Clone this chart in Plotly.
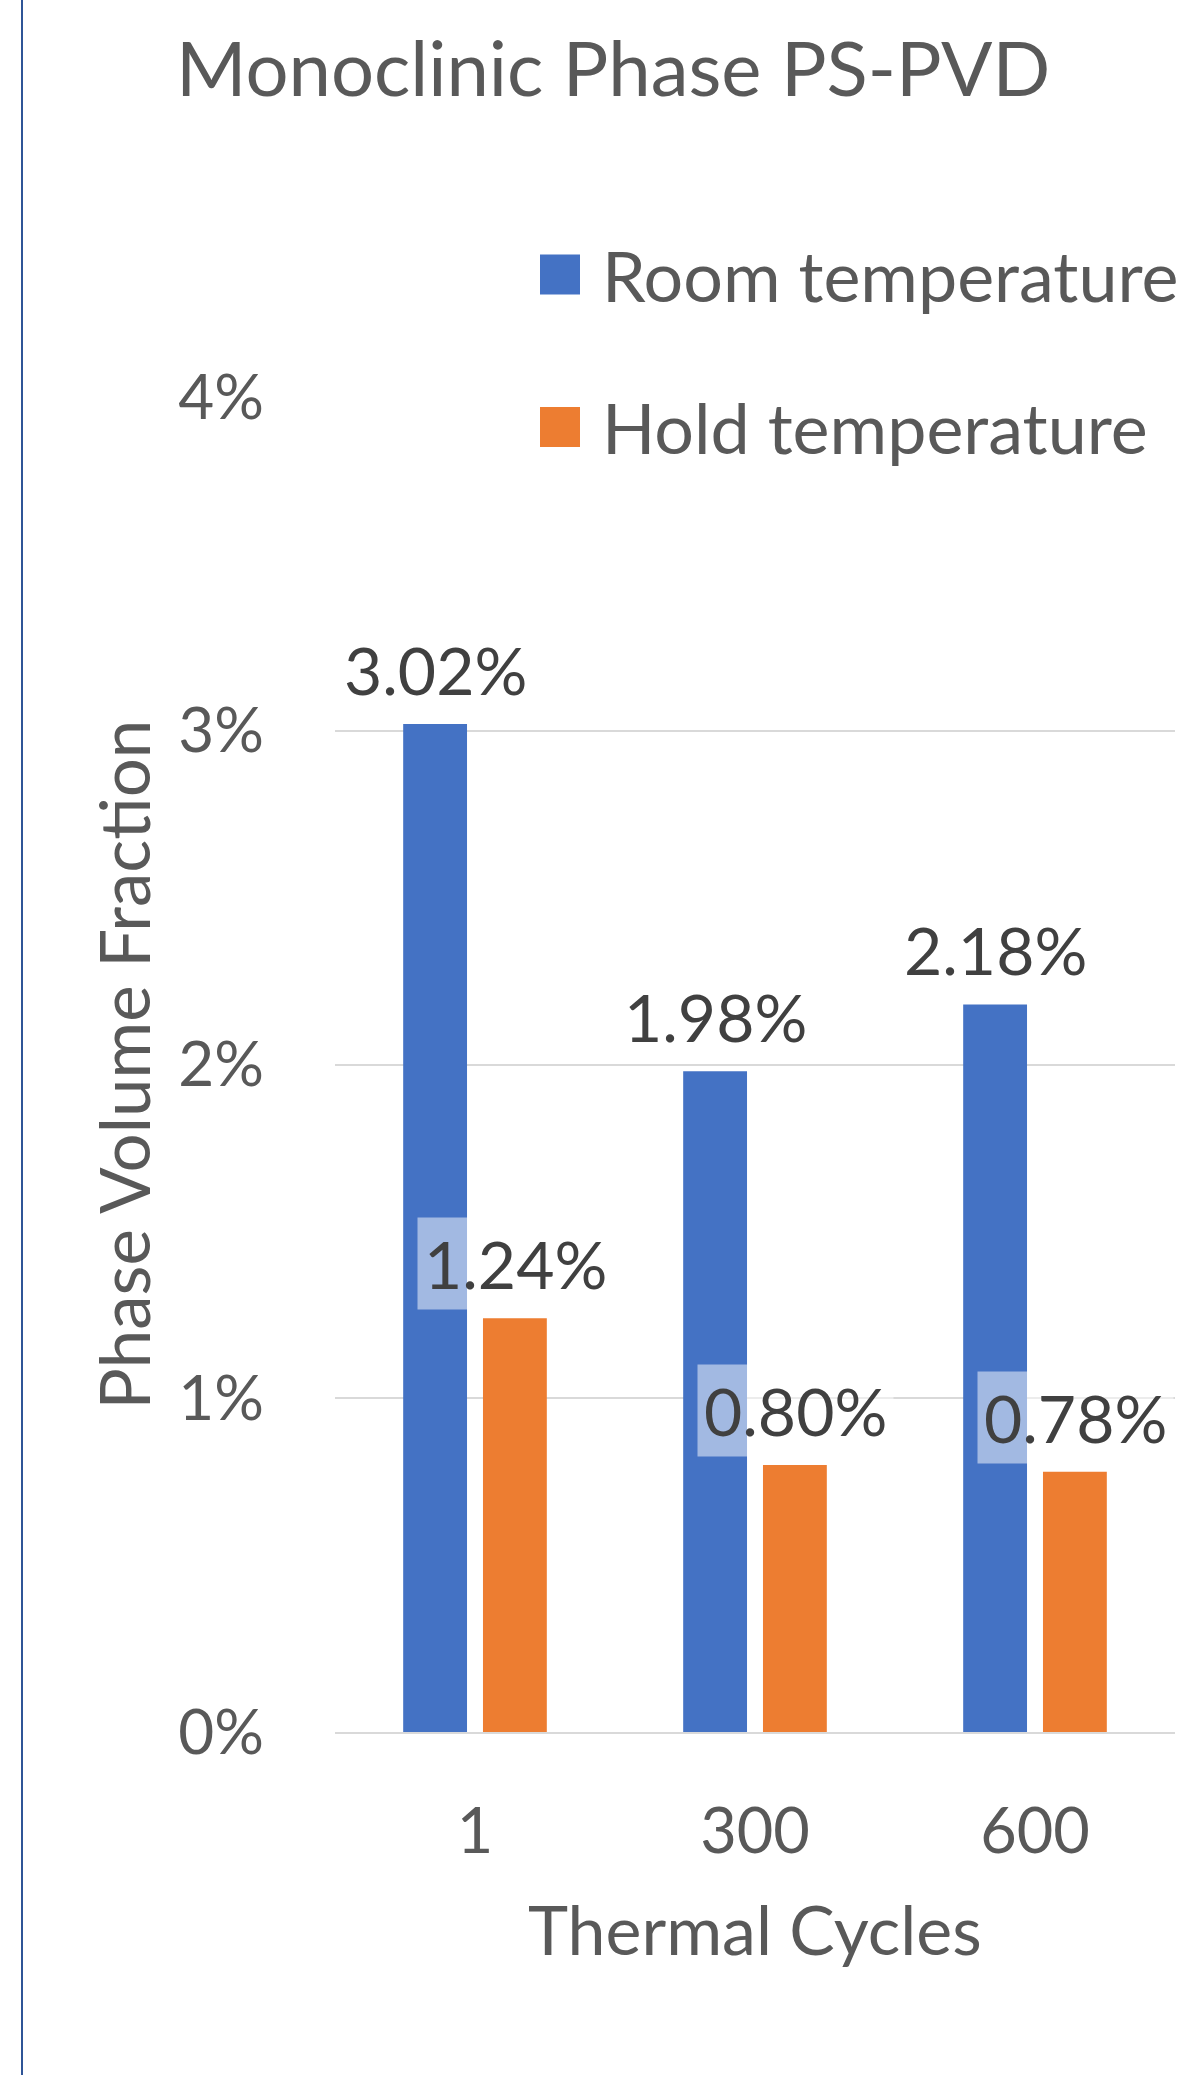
import plotly.graph_objects as go

# Monoclinic phase volume fraction after thermal cycling (PS-PVD coating)
cycles = ["1", "300", "600"]
room_temp = [0.0302, 0.0198, 0.0218]
hold_temp = [0.0124, 0.0080, 0.0078]
y_ticks = [0, 0.01, 0.02, 0.03, 0.04]

BLUE = "#4472C4"
ORANGE = "#ED7D31"
TEXT = "#595959"
LABEL = "#404040"
GRID = "#D9D9D9"
FONT = "Lato"

W, H = 1199, 2075
L, R, T, B = 335, 24, 397, 343
PW, PH = W - L - R, H - T - B


def px_x(p):
    return (p - L) / PW


def px_y(p):
    return (H - B - p) / PH


fig = go.Figure()
fig.add_trace(go.Bar(x=cycles, y=room_temp, name="Room temperature",
                     marker=dict(color=BLUE, line=dict(width=0))))
fig.add_trace(go.Bar(x=cycles, y=hold_temp, name="Hold temperature",
                     marker=dict(color=ORANGE, line=dict(width=0))))

# value labels above each bar, with a translucent white backing box;
# x is the category index so numeric-looking names are not misread
annotations = []
for series, shift in ((room_temp, -40), (hold_temp, 40)):
    for i, v in enumerate(series):
        annotations.append(dict(
            x=i, y=v, xref="x", yref="y", text=f"{v:.2%}", showarrow=False,
            xanchor="center", yanchor="bottom", xshift=shift, yshift=8,
            bgcolor="rgba(255,255,255,0.5)", borderpad=6,
            font=dict(family=FONT, size=66, color=LABEL)))

# axis titles
annotations.append(dict(
    x=px_x(755), y=px_y(1928), xref="paper", yref="paper",
    text="Thermal Cycles", showarrow=False, xanchor="center", yanchor="middle",
    font=dict(family=FONT, size=68, color=TEXT)))
annotations.append(dict(
    x=px_x(123), y=0.5, xref="paper", yref="paper",
    text="Phase Volume Fraction", showarrow=False, textangle=-90,
    xanchor="center", yanchor="middle",
    font=dict(family=FONT, size=69, color=TEXT)))

# legend entries
legend_items = [("Room temperature", BLUE, 274.5), ("Hold temperature", ORANGE, 427)]
shapes = [
    # white legend backing that hides the top gridline behind it
    dict(type="rect", xref="paper", yref="paper", layer="above",
         x0=px_x(505), x1=px_x(1199), y0=px_y(470), y1=px_y(220),
         fillcolor="white", line=dict(width=0)),
    # chart frame edge on the left
    dict(type="line", xref="paper", yref="paper", layer="above",
         x0=px_x(22), x1=px_x(22), y0=px_y(H + 5), y1=px_y(-5),
         line=dict(color="#2F5597", width=2)),
]
for name, color, cy in legend_items:
    shapes.append(dict(type="rect", xref="paper", yref="paper", layer="above",
                       x0=px_x(540), x1=px_x(580), y0=px_y(cy + 20), y1=px_y(cy - 20),
                       fillcolor=color, line=dict(width=0)))
    annotations.append(dict(
        x=px_x(600), y=px_y(cy), xref="paper", yref="paper", text=name,
        showarrow=False, xanchor="left", yanchor="middle",
        font=dict(family=FONT, size=70, color=TEXT)))

fig.update_layout(
    width=W, height=H,
    margin=dict(l=L, r=R, t=T, b=B),
    paper_bgcolor="white", plot_bgcolor="white",
    barmode="group", bargap=0.43, bargroupgap=0.2,
    showlegend=False,
    title=dict(text="Monoclinic Phase PS-PVD", xref="container", yref="container",
               x=176 / W, xanchor="left", y=1 - 69 / H, yanchor="middle",
               font=dict(family=FONT, size=76, color=TEXT)),
    xaxis=dict(type="category", range=[-0.5, 2.5], showgrid=False,
               showline=True, linecolor=GRID, linewidth=2, ticks="",
               ticklabelstandoff=43,
               tickfont=dict(family=FONT, size=63, color=TEXT)),
    yaxis=dict(range=[0, 0.04], tickvals=y_ticks, tickformat=".0%",
               showgrid=True, gridcolor=GRID, gridwidth=2, zeroline=False,
               showline=False, ticks="", ticklabelstandoff=70,
               tickfont=dict(family=FONT, size=62, color=TEXT)),
    annotations=annotations,
    shapes=shapes,
)

fig.write_html("out.html")
